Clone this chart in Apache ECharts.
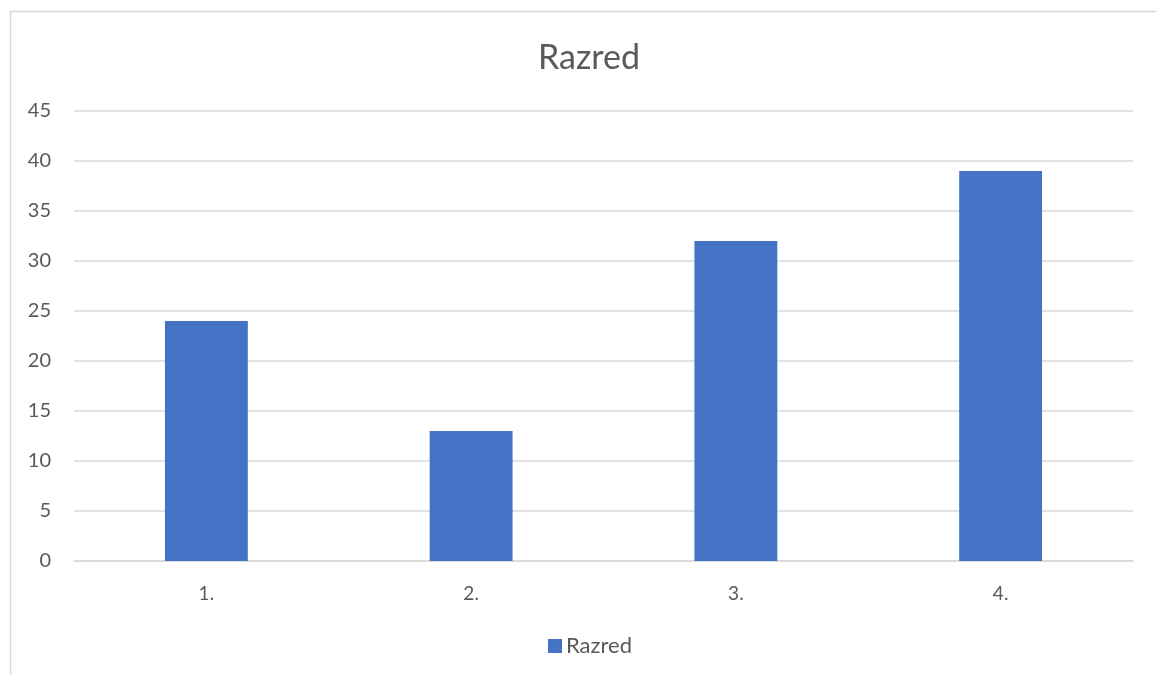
<!DOCTYPE html>
<html>
<head>
<meta charset="utf-8">
<script src="https://cdn.jsdelivr.net/npm/echarts@6/dist/echarts.min.js"></script>
<style>
html,body{margin:0;padding:0;background:#fff;}
#chart{width:1156px;height:675px;}
</style>
</head>
<body>
<div id="chart"></div>
<script>
const categories = ['1.', '2.', '3.', '4.'];
const values = [24, 13, 32, 39];
const seriesName = 'Razred';
const titleText = 'Razred';

const chart = echarts.init(document.getElementById('chart'));
const font = 'Lato, "Noto Sans", sans-serif';
chart.setOption({
  animation: false,
  backgroundColor: '#ffffff',
  graphic: [{
    type: 'rect',
    shape: { x: 10.5, y: 11.5, width: 1200, height: 700 },
    style: { fill: 'none', stroke: '#d9d9d9', lineWidth: 1.5 },
    silent: true
  }],
  title: {
    text: titleText,
    left: 584, top: 36, textAlign: 'center',
    textStyle: { fontFamily: font, fontSize: 34, fontWeight: 'normal', color: '#595959' }
  },
  legend: {
    data: [seriesName],
    top: 630,
    left: 543,
    icon: 'rect',
    itemWidth: 14, itemHeight: 14,
    itemGap: 6,
    textStyle: { fontFamily: font, fontSize: 22, color: '#595959', padding: [0, 0, 0, -1] }
  },
  grid: { left: 74, right: 23, top: 111, bottom: 114, containLabel: false },
  xAxis: {
    type: 'category',
    data: categories,
    axisLine: { show: true, lineStyle: { color: '#d9d9d9', width: 1.5 } },
    axisTick: { show: false },
    axisLabel: { fontFamily: font, fontSize: 19, color: '#595959', margin: 23 }
  },
  yAxis: {
    type: 'value',
    min: 0, max: 45, interval: 5,
    axisLine: { show: false },
    axisTick: { show: false },
    splitLine: { lineStyle: { color: '#d9d9d9', width: 1.5 } },
    axisLabel: { fontFamily: font, fontSize: 20, color: '#595959', margin: 23 }
  },
  series: [{
    name: seriesName,
    type: 'bar',
    data: values,
    barWidth: '31.3%',
    itemStyle: { color: '#4472C4' }
  }]
});
</script>
</body>
</html>
